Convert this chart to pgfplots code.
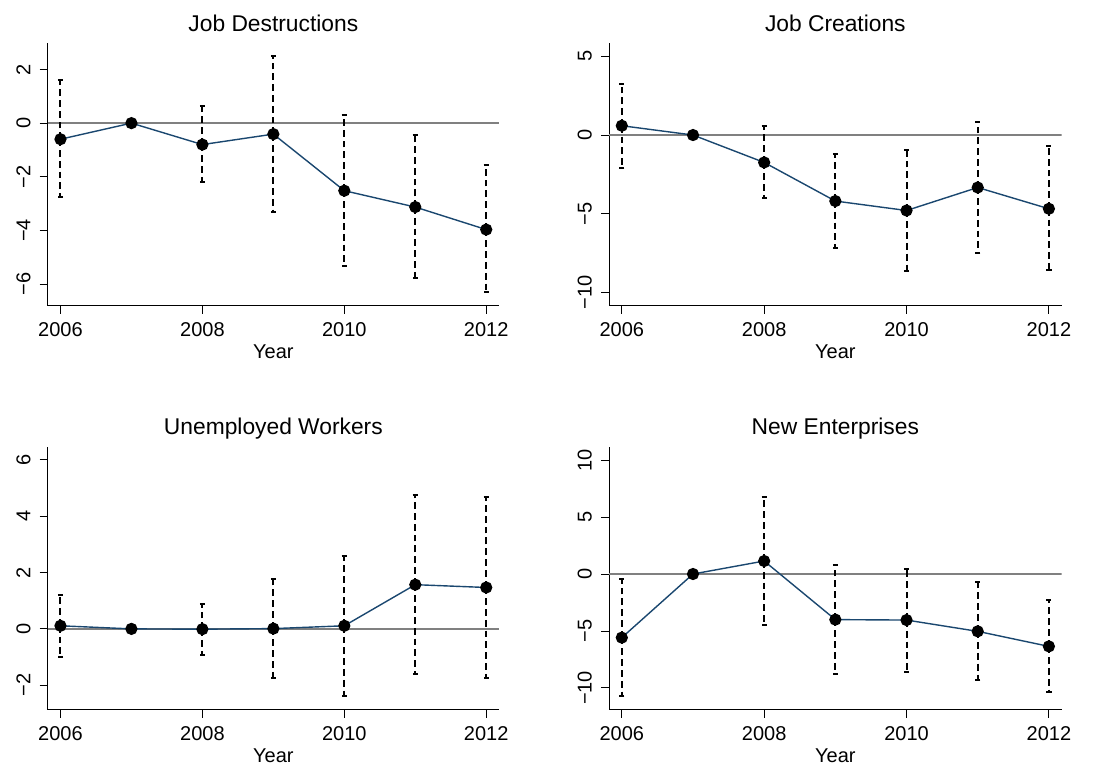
\documentclass[border=0pt]{standalone}
\usepackage{fontspec}
\setmainfont{Liberation Sans}
\usepackage{pgfplots}
\usepackage{pgfplotstable}
\pgfplotsset{compat=1.18}

\definecolor{statanavy}{RGB}{26,71,111}
\definecolor{zeroline}{RGB}{128,128,128}

% year, coefficient, lower and upper bound of the interval
\pgfplotstableread{
year b lo hi
2006 -0.60 -2.75 1.59
2007 0 0 0
2008 -0.80 -2.21 0.65
2009 -0.41 -3.32 2.51
2010 -2.52 -5.31 0.30
2011 -3.13 -5.76 -0.46
2012 -3.97 -6.31 -1.58
}\jd
\pgfplotstableread{
year b lo hi
2006 0.59 -2.08 3.26
2007 0 0 0
2008 -1.74 -4.00 0.57
2009 -4.19 -7.20 -1.19
2010 -4.79 -8.62 -0.95
2011 -3.33 -7.46 0.81
2012 -4.68 -8.56 -0.72
}\jc
\pgfplotstableread{
year b lo hi
2006 0.11 -0.99 1.21
2007 0 0 0
2008 -0.01 -0.91 0.90
2009 0.01 -1.74 1.78
2010 0.11 -2.38 2.60
2011 1.57 -1.61 4.77
2012 1.47 -1.75 4.69
}\uw
\pgfplotstableread{
year b lo hi
2006 -5.58 -10.70 -0.41
2007 0 0 0
2008 1.14 -4.47 6.75
2009 -4.00 -8.77 0.79
2010 -4.04 -8.57 0.47
2011 -5.03 -9.30 -0.67
2012 -6.35 -10.38 -2.31
}\ne

\pgfplotsset{
  panel/.style={
    scale only axis,
    axis x line*=bottom, axis y line*=left,
    x axis line style={-}, y axis line style={-},
    axis line style={line width=0.5pt, black},
    xmin=2005.82, xmax=2012.18,
    xtick={2006,2008,2010,2012},
    xticklabels={2006,2008,2010,2012},
    tick align=outside, major tick length=4pt,
    tick style={black, line width=0.5pt},
    ticklabel style={font=\fontsize{10}{12}\selectfont},
    xticklabel style={anchor=base, yshift=-11.5pt},
    yticklabel style={xshift=-4.7pt, rotate=90, anchor=base},
    xlabel={Year},
    xlabel style={font=\fontsize{10}{12}\selectfont, at={(0.5,0)}, anchor=base, yshift=-26.5pt},
    title style={font=\fontsize{11.4}{13}\selectfont, at={(0.5,1)}, anchor=base, yshift=-0.5pt},
  },
  zero/.style={zeroline, line width=0.75pt, forget plot},
  ci/.style={draw=none, mark=none, forget plot, skip coords between index={1}{2},
    error bars/.cd, y dir=both, y explicit,
    error bar style={draw=black, line width=1pt, dash pattern=on 3.4pt off 2pt},
    error mark options={solid, draw=black, rotate=90, mark size=1.3pt, line width=1pt}},
  est/.style={statanavy, line width=0.7pt, mark=*, mark size=2.7pt,
    mark options={fill=black, draw=black}},
}

\begin{document}
\begin{tikzpicture}
\useasboundingbox (0,0) rectangle (549.5pt,382.5pt);

\begin{axis}[panel, at={(23.85pt,229.5pt)}, anchor=south west,
  width=225.65pt, height=131.65pt,
  ymin=-6.82, ymax=3.0, ytick={-6,-4,-2,0,2},
  yticklabels={−6,−4,−2,0,2},
  title={Job Destructions}]
\addplot[zero] coordinates {(2005.82,0) (2012.18,0)};
\addplot[ci] table[x=year, y=b, y error plus expr=\thisrow{hi}-\thisrow{b}, y error minus expr=\thisrow{b}-\thisrow{lo}] {\jd};
\addplot[est] table[x=year, y=b] {\jd};
\end{axis}

\begin{axis}[panel, at={(304.5pt,229.5pt)}, anchor=south west,
  width=226.35pt, height=131.65pt,
  ymin=-10.85, ymax=5.86, ytick={-10,-5,0,5},
  yticklabels={−10,−5,0,5},
  title={Job Creations}]
\addplot[zero] coordinates {(2005.82,0) (2012.18,0)};
\addplot[ci] table[x=year, y=b, y error plus expr=\thisrow{hi}-\thisrow{b}, y error minus expr=\thisrow{b}-\thisrow{lo}] {\jc};
\addplot[est] table[x=year, y=b] {\jc};
\end{axis}

\begin{axis}[panel, at={(23.85pt,27.5pt)}, anchor=south west,
  width=225.65pt, height=131.65pt,
  ymin=-2.88, ymax=6.47, ytick={-2,0,2,4,6},
  yticklabels={−2,0,2,4,6},
  title style={yshift=0.7pt},
  title={Unemployed Workers}]
\addplot[zero] coordinates {(2005.82,0) (2012.18,0)};
\addplot[ci] table[x=year, y=b, y error plus expr=\thisrow{hi}-\thisrow{b}, y error minus expr=\thisrow{b}-\thisrow{lo}] {\uw};
\addplot[est] table[x=year, y=b] {\uw};
\end{axis}

\begin{axis}[panel, at={(304.5pt,27.5pt)}, anchor=south west,
  width=226.35pt, height=131.65pt,
  ymin=-11.93, ymax=11.17, ytick={-10,-5,0,5,10},
  yticklabels={−10,−5,0,5,10},
  title style={yshift=0.7pt},
  title={New Enterprises}]
\addplot[zero] coordinates {(2005.82,0) (2012.18,0)};
\addplot[ci] table[x=year, y=b, y error plus expr=\thisrow{hi}-\thisrow{b}, y error minus expr=\thisrow{b}-\thisrow{lo}] {\ne};
\addplot[est] table[x=year, y=b] {\ne};
\end{axis}
\end{tikzpicture}
\end{document}
